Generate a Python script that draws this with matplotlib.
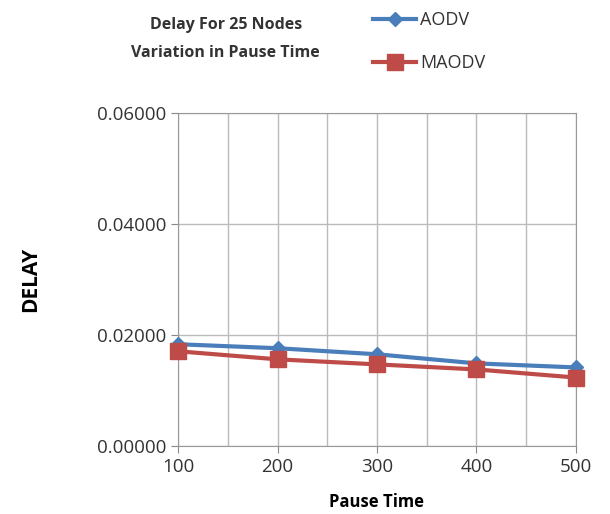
import matplotlib
matplotlib.use('Agg')
import matplotlib.pyplot as plt

pause_time = [100, 200, 300, 400, 500]
aodv = [0.01836, 0.01764, 0.01655, 0.01491, 0.01418]
maodv = [0.01709, 0.01564, 0.01473, 0.01382, 0.01236]
y_ticks = [0.0, 0.02, 0.04, 0.06]

plt.rcParams['font.family'] = ['Open Sans', 'DejaVu Sans']

fig = plt.figure(figsize=(6.1, 5.14), dpi=100)
ax = fig.add_axes([0.292, 0.132, 0.652, 0.648])

ax.plot(pause_time, aodv, color='#4a7ebb', linewidth=3, marker='D', markersize=7,
        label='AODV', clip_on=False, zorder=3)
ax.plot(pause_time, maodv, color='#be4b48', linewidth=3, marker='s', markersize=11,
        label='MAODV', clip_on=False, zorder=4)

ax.set_xlim(100, 500)
ax.set_ylim(0, 0.06)
ax.set_xticks(pause_time)
ax.set_xticks([150, 250, 350, 450], minor=True)
ax.set_yticks(y_ticks)
ax.set_yticklabels([f"{v:.5f}" for v in y_ticks])
ax.tick_params(axis='both', which='both', labelsize=13.5, color='#888888', length=5, labelcolor='#333333')
ax.tick_params(axis='x', which='minor', length=0)
ax.grid(True, which='both', color='#bbbbbb', linewidth=1)
for s in ax.spines.values():
    s.set_color('#999999')

ax.set_ylabel("DELAY", fontsize=15, fontweight='bold', labelpad=40)
ax.set_xlabel("Pause Time", fontsize=12, fontweight='bold', labelpad=12)

fig.text(0.37, 0.925, "Delay For 25 Nodes\nVariation in Pause Time", ha='center', va='center',
         fontsize=11.5, fontweight='bold', color='#333333', linespacing=2.0)
fig.legend(loc='upper left', bbox_to_anchor=(0.585, 1.01), frameon=False, fontsize=13,
           handlelength=2.4, labelspacing=1.4, handletextpad=0.2, labelcolor='#333333')

fig.savefig('out.png', dpi=100)
